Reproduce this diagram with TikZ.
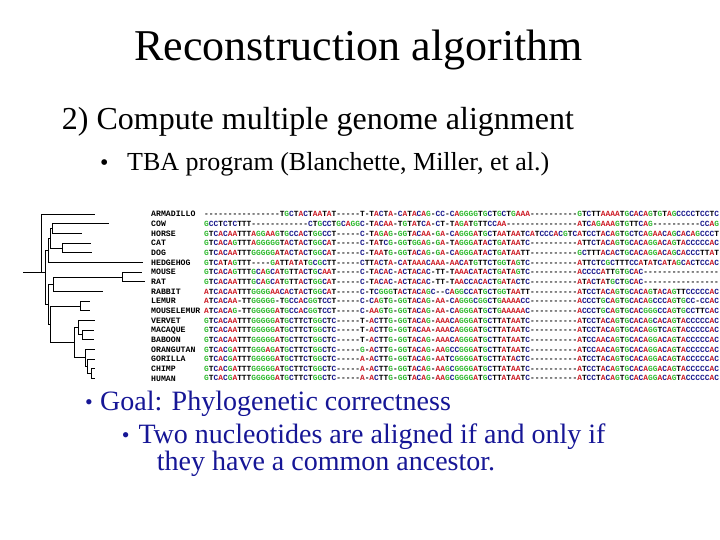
\documentclass[tikz,border=0pt]{standalone}
\usepackage{fontspec}
\setmainfont{Liberation Serif}
\newfontfamily\seqfont[Ligatures=TeXOff]{Liberation Mono}
\definecolor{ntA}{RGB}{205,25,35}
\definecolor{ntC}{RGB}{25,25,140}
\definecolor{ntG}{RGB}{45,185,45}
\definecolor{bluetxt}{RGB}{22,22,150}
\def\seqch#1{\ifx A#1\textcolor{ntA}{A}\else\ifx C#1\textcolor{ntC}{C}\else\ifx G#1\textcolor{ntG}{G}\else#1\fi\fi\fi}
\def\seqloop#1{\ifx\relax#1\else\seqch#1\expandafter\seqloop\fi}
\newcommand\seq[1]{\seqloop#1\relax}
\tikzset{
  tree/.style={line width=0.9pt, black},
  lab/.style={anchor=base west, inner sep=0pt, font=\seqfont\bfseries\fontsize{8.2}{9}\selectfont},
  sq/.style={anchor=base west, inner sep=0pt, font=\seqfont\bfseries\fontsize{7.87}{9}\selectfont},
  slide/.style={anchor=base west, inner sep=0pt},
}
\newcommand\alrow[4]{%
  \node[lab] (l#1) at (151,{214.3+9.65*(#1-1)+2.7}) {#2};
  \node[sq] (s#1) at (204,{214.3+9.65*(#1-1)+2.6}) {\seq{#3}};
  \coordinate (e#1) at (#4,{214.3+9.65*(#1-1)});
}
\begin{document}
\begin{tikzpicture}[x=1pt,y=-1pt]
\useasboundingbox[fill=white] (0,0) rectangle (720,540);
\begin{scope}
\clip (0,0) rectangle (720,540);
% titles
\node[anchor=base, inner sep=0pt, font=\fontsize{44}{50}\selectfont] (title) at (358.5,61) {Reconstruction algorithm};
\node[slide, font=\fontsize{32}{38}\selectfont] (sub) at (61.7,130) {2) Compute multiple genome alignment};
\node[slide, font=\fontsize{24}{30}\selectfont] (b1) at (100,170.7) {•};
\node[slide, font=\fontsize{26}{30}\selectfont] (tba) at (127,170.7) {TBA program (Blanchette, Miller, et al.)};
% alignment rows
\alrow{1}{ARMADILLO}{----------------TGCTACTAAT AT-----T-TACTA-CATACAG-CC-CAGGGGTGCTGCTGAAA ---------- GTCTTAAAATGCACAGTGTAGCCCCTCCTC}{95}
\alrow{2}{COW}{GCCTCTCTTT------------CTGC CTGCAGGC-TACAA-TGTATCA-CT-TAGATGTTCCAA----- ---------- ATCAGAAAGTGTTCAG----------CCAG}{109}
\alrow{3}{HORSE}{GTCACAATTTAGGAAGTGCCACTGGC CT-----C-TAGAG-GGTACAA-GA-CAGGGATGCTAATAATC ATCCCACGTC ATCCTACAGTGCTCAGAACAGCACAGCCCT}{81.7}
\alrow{4}{CAT}{GTCACAGTTTAGGGGGTACTACTGGC AT-----C-TATCG-GGTGGAG-GA-TAGGGATACTGATAATC ---------- ATTCTACAGTGCACAGGACAGTACCCCCAC}{91}
\alrow{5}{DOG}{GTCACAATTTGGGGGATACTACTGGC AT-----C-TAATG-GGTACAG-GA-CAGGGATACTGATAATT ---------- GCTTTACACTGCACAGGACAGCACCCTTAT}{91.7}
\alrow{6}{HEDGEHOG}{GTCATAGTTT----GATTATATGCGC TT-----CTTACTA-CATAAACAAA-AACATGTTCTGGTAGTC ---------- ATTCTCGCTTTCCATATCATAGCACTCCAC}{143}
\alrow{7}{MOUSE}{GTCACAGTTTGCAGCATGTTACTGCA AT-----C-TACAC-ACTACAC-TT-TAAACATACTGATAGTC ---------- ACCCCATTGTGCAC----------------}{141.7}
\alrow{8}{RAT}{GTCACAATTTGCAGCATGTTACTGGC AT-----C-TACAC-ACTACAC-TT-TAACCACACTGATACTC ---------- ATACTATGCTGCAC----------------}{145}
\alrow{9}{RABBIT}{ATCACAATTTGGGGAACACTACTGGC AT-----C-TCGGGTACTACAGC--CAGGCCATGCTGGTAATT ---------- ATCCTACAGTGCACAGTACAGTTCCCCCAC}{102.5}
\alrow{10}{LEMUR}{ATCACAA-TTGGGGG-TGCCACGGTC CT-----C-CAGTG-GGTACAG-AA-CAGGGCGGCTGAAAACC ---------- ACCCTGCAGTGCACAGCCCAGTGCC-CCAC}{90}
\alrow{11}{MOUSELEMUR}{ATCACAG-TTGGGGGATGCCACGGTC CT-----C-AAGTG-GGTACAG-AA-CAGGGATGCTGAAAAAC ---------- ACCCTGCAGTGCACGGGCCAGTGCCTTCAC}{90}
\alrow{12}{VERVET}{GTCACAATTTGGGGGATGCTTCTGGC TC-----T-ACTTG-GGTACAG-AAACAGGGATGCTTATAATC ---------- ATCCTACAGTGCACAGCACAGTACCCCCAC}{95}
\alrow{13}{MACAQUE}{GTCACAATTTGGGGGATGCTTCTGGC TC-----T-ACTTG-GGTACAA-AAACAGGGATGCTTATAATC ---------- ATCCTACAGTGCACAGGTCAGTACCCCCAC}{94.3}
\alrow{14}{BABOON}{GTCACAATTTGGGGGATGCTTCTGGC TC-----T-ACTTG-GGTACAG-AAACAGGGATGCTTATAATC ---------- ATCCAACAGTGCACAGGACAGTACCCCCAC}{94}
\alrow{15}{ORANGUTAN}{GTCACGATTTGGGAGATGCTTCTGGC TC-----G-ACTTG-GGTACAG-AAGCCGGGATGCTTATAATC ---------- ATCCAACAGTGCACAGGACAGTACCCCCAC}{95}
\alrow{16}{GORILLA}{GTCACGATTTGGGGGATGCTTCTGGC TC-----A-ACTTG-GGTACAG-AATCGGGGATGCTTATACTC ---------- ATCCTACAGTGCACAGGACAGTACCCCCAC}{95}
\alrow{17}{CHIMP}{GTCACGATTTGGGGGATGCTTCTGGC TC-----A-ACTTG-GGTACAG-AAGCGGGGATGCTTATAATC ---------- ATCCTACAGTGCACAGGACAGTACCCCCAC}{95}
\alrow{18}{HUMAN}{GTCACGATTTGGGGGATGCTTCTGGC TC-----A-ACTTG-GGTACAG-AAGCGGGGATGCTTATAATC ---------- ATCCTACAGTGCACAGGACAGTACCCCCAC}{95}
% tree internal nodes
\coordinate (rs) at (23.3,272.3);
\coordinate (nR) at (41,272.3);
\coordinate (nB) at (45.7,272.3);
\coordinate (nLa) at (48.3,250.5);
\coordinate (nFe) at (50,238.45);
\coordinate (nCH) at (52.3,228.8);
\coordinate (nCD) at (62.3,248.1);
\coordinate (nEu) at (48.3,304.3);
\coordinate (nGl) at (53.3,284.25);
\coordinate (nMR) at (122.7,277.0);
\coordinate (nPr) at (50,324.4);
\coordinate (nLe) at (80.7,306.0);
\coordinate (nAn) at (74.3,342.8);
\coordinate (nOW) at (78.3,327.7);
\coordinate (nMB) at (82.7,334.9);
\coordinate (nAp) at (85.7,357.85);
\coordinate (nAf) at (87.7,366.3);
\coordinate (nCu) at (91,373.5);
% tree branches
\draw[tree] (rs) -- (nB);
\draw[tree] (nR) |- (e1);
\draw[tree] (nB) |- (nLa);
\draw[tree] (nB) |- (nEu);
\draw[tree] (nLa) |- (nFe);
\draw[tree] (nLa) |- (e6);
\draw[tree] (nFe) |- (nCH);
\draw[tree] (nFe) |- (nCD);
\draw[tree] (nCH) |- (e2);
\draw[tree] (nCH) |- (e3);
\draw[tree] (nCD) |- (e4);
\draw[tree] (nCD) |- (e5);
\draw[tree] (nEu) |- (nGl);
\draw[tree] (nEu) |- (nPr);
\draw[tree] (nGl) |- (nMR);
\draw[tree] (nGl) |- (e9);
\draw[tree] (nMR) |- (e7);
\draw[tree] (nMR) |- (e8);
\draw[tree] (nPr) |- (nLe);
\draw[tree] (nPr) |- (nAn);
\draw[tree] (nLe) |- (e10);
\draw[tree] (nLe) |- (e11);
\draw[tree] (nAn) |- (nOW);
\draw[tree] (nAn) |- (nAp);
\draw[tree] (nOW) |- (e12);
\draw[tree] (nOW) |- (nMB);
\draw[tree] (nMB) |- (e13);
\draw[tree] (nMB) |- (e14);
\draw[tree] (nAp) |- (e15);
\draw[tree] (nAp) |- (nAf);
\draw[tree] (nAf) |- (e16);
\draw[tree] (nAf) |- (nCu);
\draw[tree] (nCu) |- (e17);
\draw[tree] (nCu) |- (e18);
% goal text
\node[slide, text=bluetxt, font=\fontsize{22}{28}\selectfont] (b2) at (85,409) {•};
\node[slide, text=bluetxt, font=\fontsize{28}{32}\selectfont] (goal) at (100,410) {Goal: Phylogenetic correctness};
\node[slide, text=bluetxt, font=\fontsize{22}{28}\selectfont] (b3) at (121.7,442.3) {•};
\node[slide, text=bluetxt, font=\fontsize{28}{32}\selectfont] (two) at (138.3,443.3) {Two nucleotides are aligned if and only if};
\node[slide, text=bluetxt, font=\fontsize{28}{32}\selectfont] (they) at (156.7,470.7) {they have a common ancestor.};
\end{scope}
\end{tikzpicture}
\end{document}
